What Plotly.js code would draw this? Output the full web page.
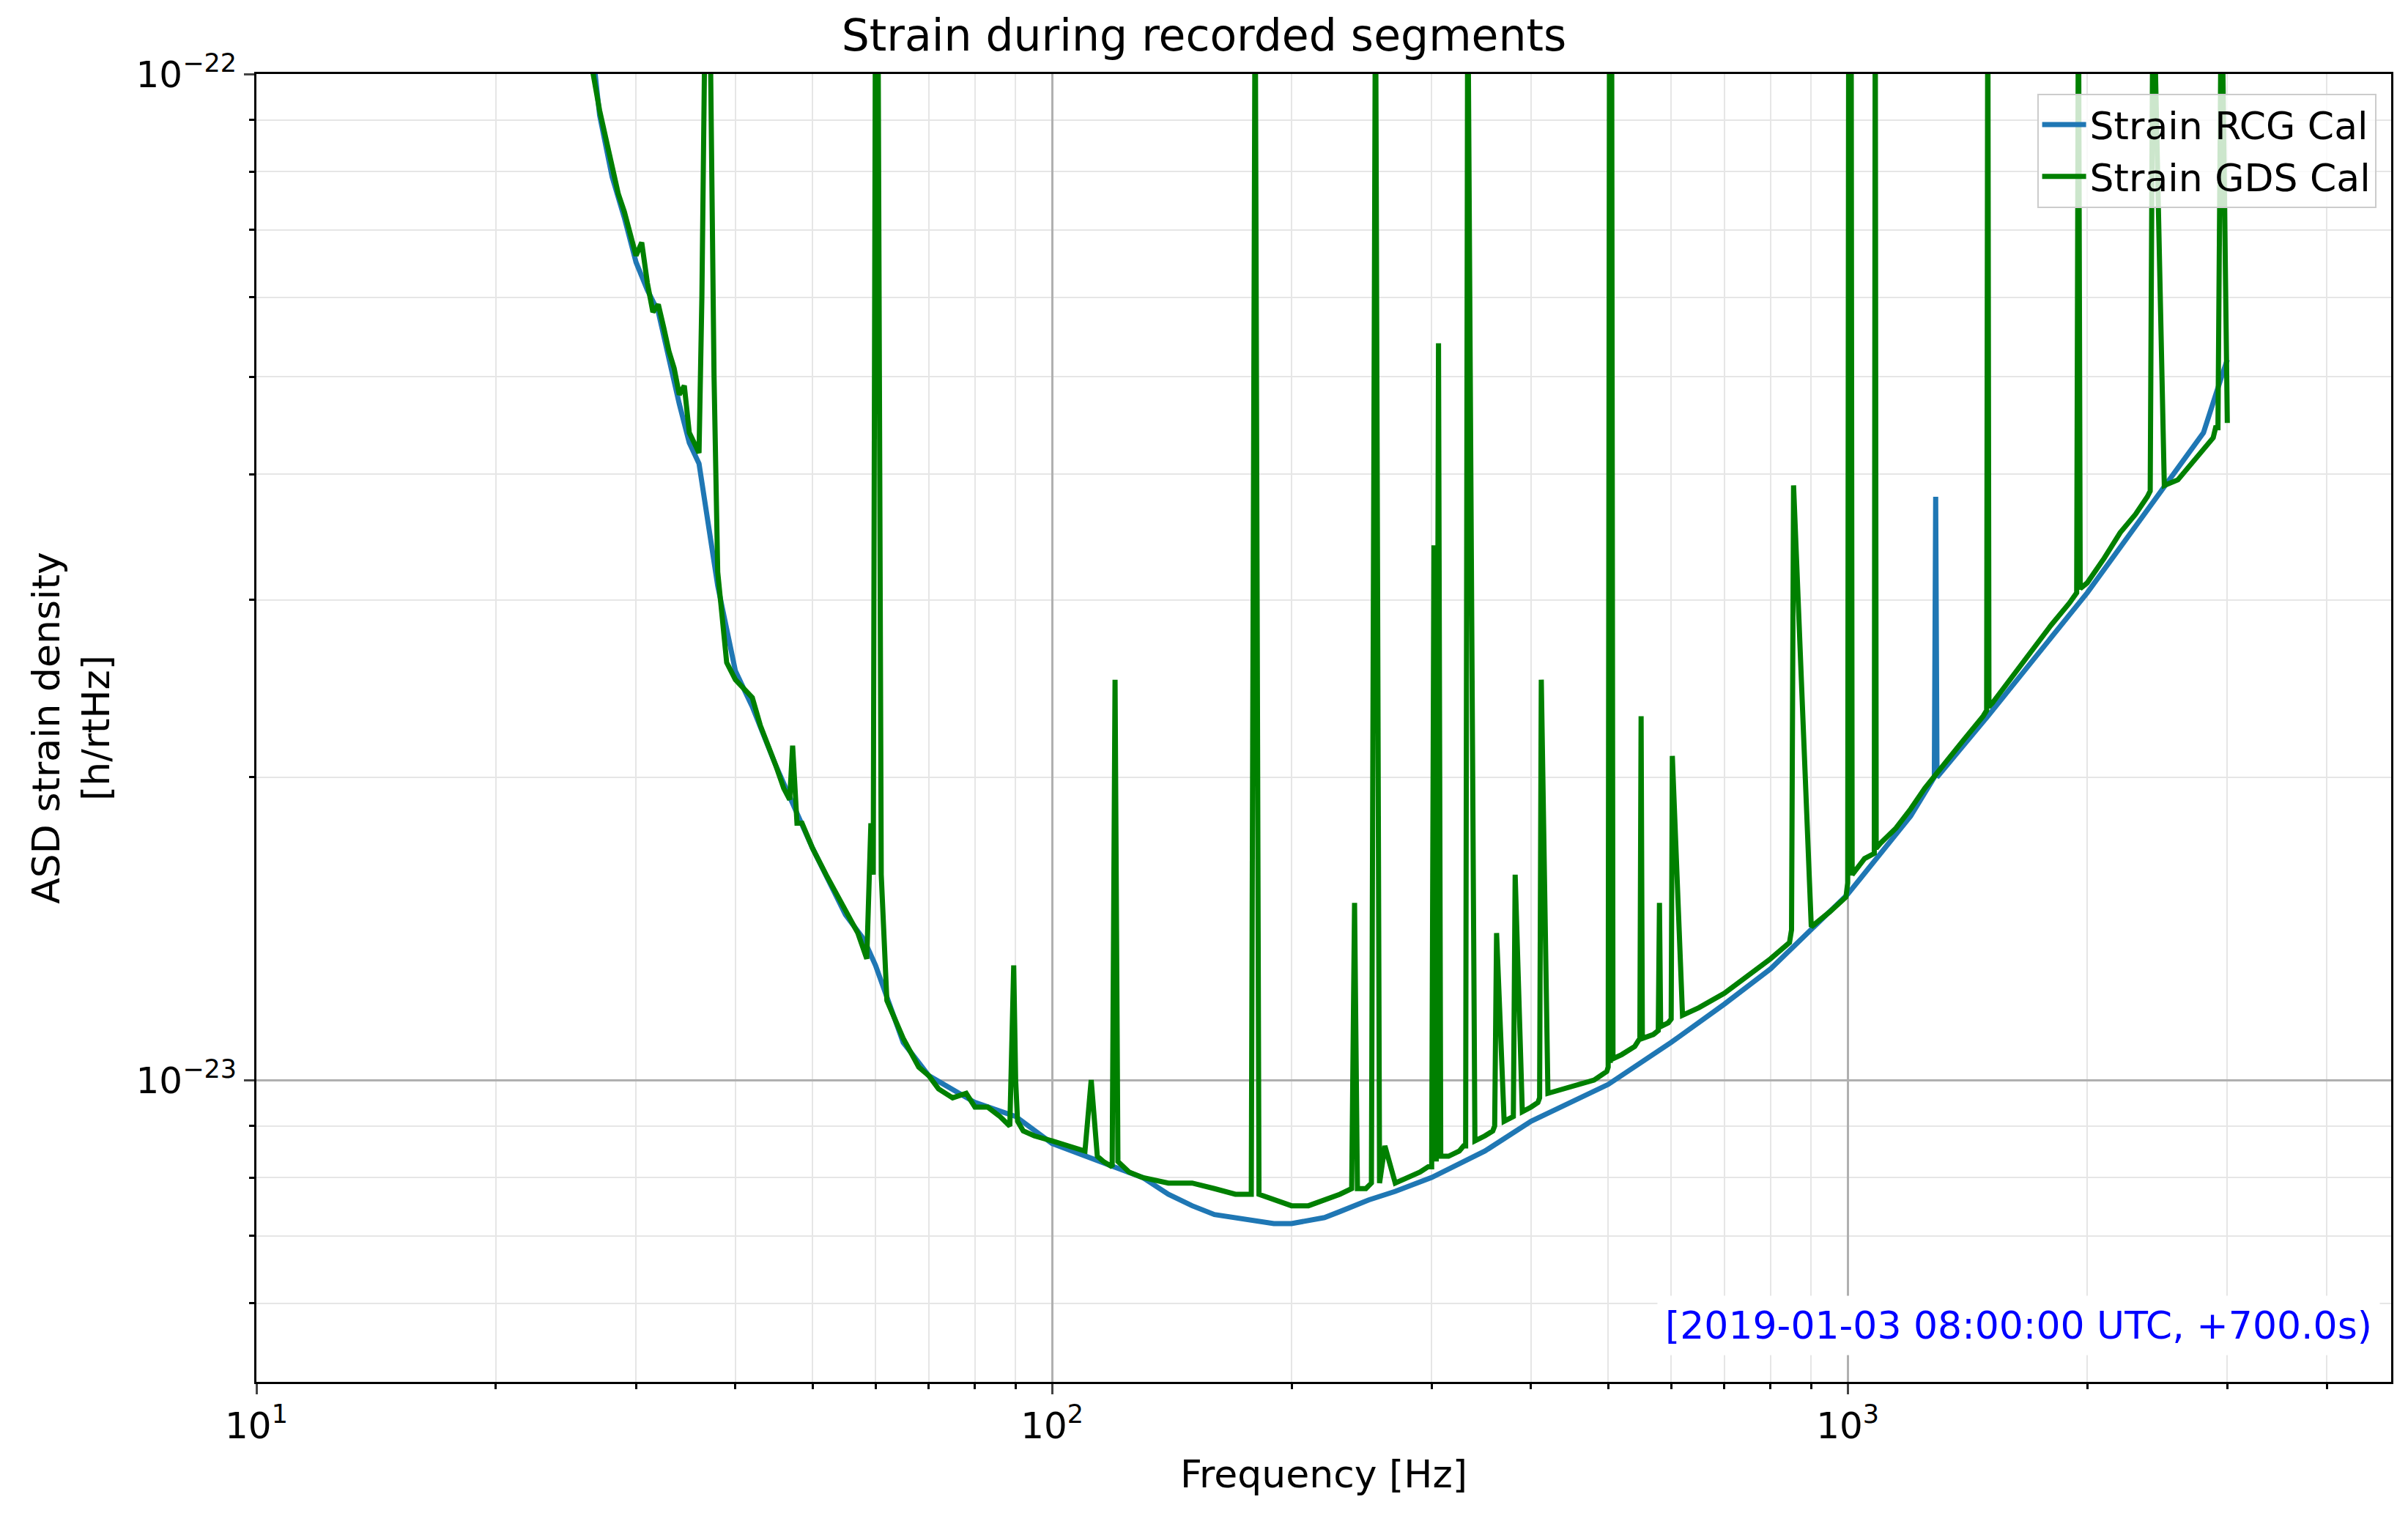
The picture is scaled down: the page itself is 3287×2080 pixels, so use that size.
<!DOCTYPE html>
<html><head><meta charset="utf-8">
<script src="https://cdn.plot.ly/plotly-3.0.1.min.js"></script>
<style>body{margin:0;background:#fff}#c{width:3287px;height:2080px}</style></head>
<body><div id="c"></div>
<script>
const freqGDS = [26,26.5,27,27.5,28,28.5,29,29.5,30,30.5,31,31.5,32,32.5,33,33.5,34,34.5,35,35.5,36,36.3,36.7,37.1,37.6,38,38.5,39,40,41,42,43,44,45,46,46.8,47.2,47.8,48.5,50,52,55,57,58.5,59.2,59.6,60,60.4,61,62,65,68,70,72,75,78,80,83,86,88.5,89.5,90,90.5,92,95,100,105,110,112,114,116,119,120,121,125,130,140,150,160,170,178,180,182,190,200,210,220,230,238,240,242,248,252,255,258,262,270,280,290,297,300,302,304,306,308,315,325,329,331,333,340,350,358,360,362,370,378,380,382,390,400,408,410,412,420,440,460,480,498,500,502,503,505,507,520,540,548,550,552,570,578,580,582,595,600,602,620,650,700,750,800,845,850,855,900,950,995,1000,1003,1007,1010,1013,1050,1080,1083,1086,1100,1150,1200,1250,1300,1350,1400,1480,1495,1500,1505,1520,1600,1700,1800,1900,1940,1950,1960,2000,2100,2200,2300,2380,2400,2420,2500,2600,2700,2800,2880,2900,2920,2950,3000];
const strainGDS = [1.2e-22,1.0e-22,9.2e-23,8.6e-23,8.0e-23,7.6e-23,7.3e-23,6.9e-23,6.6e-23,6.8e-23,6.2e-23,5.8e-23,5.9e-23,5.6e-23,5.3e-23,5.1e-23,4.8e-23,4.9e-23,4.4e-23,4.3e-23,4.2e-23,6e-23,1.3e-22,1.3e-22,5e-23,3.2e-23,2.9e-23,2.6e-23,2.5e-23,2.45e-23,2.4e-23,2.25e-23,2.15e-23,2.05e-23,1.95e-23,1.9e-23,2.15e-23,1.8e-23,1.8e-23,1.7e-23,1.6e-23,1.48e-23,1.4e-23,1.32e-23,1.8e-23,1.6e-23,1.3e-22,1.3e-22,1.6e-23,1.2e-23,1.1e-23,1.03e-23,1.01e-23,9.8e-24,9.6e-24,9.7e-24,9.4e-24,9.4e-24,9.2e-24,9.0e-24,1.3e-23,1.0e-23,9.1e-24,8.9e-24,8.8e-24,8.7e-24,8.6e-24,8.5e-24,1.0e-23,8.4e-24,8.3e-24,8.2e-24,2.5e-23,8.3e-24,8.1e-24,8.0e-24,7.9e-24,7.9e-24,7.8e-24,7.7e-24,7.7e-24,1.3e-22,7.7e-24,7.6e-24,7.5e-24,7.5e-24,7.6e-24,7.7e-24,7.8e-24,1.5e-23,7.8e-24,7.8e-24,7.9e-24,1.3e-22,7.9e-24,8.6e-24,7.9e-24,8.0e-24,8.1e-24,8.2e-24,8.2e-24,3.4e-23,8.3e-24,5.4e-23,8.4e-24,8.4e-24,8.5e-24,8.6e-24,8.6e-24,1.3e-22,8.7e-24,8.8e-24,8.9e-24,9.0e-24,1.4e-23,9.1e-24,9.2e-24,9.2e-24,1.6e-23,9.3e-24,9.4e-24,9.5e-24,9.6e-24,2.5e-23,9.7e-24,9.8e-24,9.9e-24,1.0e-23,1.02e-23,1.03e-23,1.3e-22,1.04e-23,1.3e-22,1.05e-23,1.06e-23,1.08e-23,1.1e-23,2.3e-23,1.1e-23,1.11e-23,1.12e-23,1.5e-23,1.13e-23,1.14e-23,1.15e-23,2.1e-23,1.16e-23,1.18e-23,1.22e-23,1.27e-23,1.32e-23,1.37e-23,1.41e-23,3.9e-23,1.42e-23,1.47e-23,1.52e-23,1.57e-23,1.3e-22,1.62e-23,1.3e-22,1.6e-23,1.66e-23,1.68e-23,1.3e-22,1.7e-23,1.72e-23,1.78e-23,1.86e-23,1.95e-23,2.03e-23,2.1e-23,2.18e-23,2.3e-23,2.33e-23,1.3e-22,2.35e-23,2.37e-23,2.5e-23,2.67e-23,2.83e-23,2.98e-23,3.05e-23,1.3e-22,3.08e-23,3.12e-23,3.3e-23,3.5e-23,3.65e-23,3.8e-23,3.85e-23,1.3e-22,3.9e-23,3.95e-23,4.1e-23,4.25e-23,4.35e-23,4.45e-23,4.45e-23,1.3e-22,4.5e-23,4.6e-23,4.6e-23];
const freqRCG = [26,27,28,29,30,31,32,33,34,35,36,38,40,42,45,50,55,58,60,65,70,80,90,100,110,120,130,140,150,160,170,180,190,200,210,220,230,250,270,300,350,400,500,600,700,800,1000,1200,1285,1290,1295,1500,2000,2500,2800,2950,3000];
const strainRCG = [1.2e-22,9.1e-23,7.9e-23,7.2e-23,6.5e-23,6.1e-23,5.8e-23,5.2e-23,4.7e-23,4.3e-23,4.1e-23,3.1e-23,2.55e-23,2.35e-23,2.05e-23,1.7e-23,1.46e-23,1.38e-23,1.3e-23,1.09e-23,1.01e-23,9.5e-24,9.2e-24,8.65e-24,8.4e-24,8.2e-24,8.0e-24,7.7e-24,7.5e-24,7.35e-24,7.3e-24,7.25e-24,7.2e-24,7.2e-24,7.25e-24,7.3e-24,7.4e-24,7.6e-24,7.75e-24,8.0e-24,8.5e-24,9.1e-24,9.9e-24,1.09e-23,1.19e-23,1.29e-23,1.53e-23,1.83e-23,2.0e-23,3.8e-23,2.0e-23,2.3e-23,3.05e-23,3.9e-23,4.4e-23,5.0e-23,5.2e-23];
const xTicks=[10,100,1000], xTickText=['10<sup>1</sup>','10<sup>2</sup>','10<sup>3</sup>'];
const yTicks=[1e-23,1e-22], yTickText=['10<sup>−23</sup>','10<sup>−22</sup>'];
const xMinor=[20,30,40,50,60,70,80,90,200,300,400,500,600,700,800,900,2000,3000,4000];
const yMinor=[6e-24,7e-24,8e-24,9e-24,2e-23,3e-23,4e-23,5e-23,6e-23,7e-23,8e-23,9e-23];
const F='DejaVu Sans';
Plotly.newPlot('c',[
 {x:freqRCG,y:strainRCG,name:'Strain RCG Cal',mode:'lines',line:{color:'#1f77b4',width:7}},
 {x:freqGDS,y:strainGDS,name:'Strain GDS Cal',mode:'lines',line:{color:'#008000',width:7}}
],{
 width:3287,height:2080,paper_bgcolor:'#fff',plot_bgcolor:'#fff',
 margin:{l:350,r:23,t:101,b:194},
 font:{family:F,size:50,color:'#000'},
 title:{text:'Strain during recorded segments',font:{size:60},y:0.977,yanchor:'middle'},
 xaxis:{type:'log',range:[1,Math.log10(4820)],tickvals:xTicks,ticktext:xTickText,showline:true,mirror:true,linecolor:'#000',linewidth:3,ticks:'outside',ticklen:14,tickwidth:3,gridcolor:'#b0b0b0',gridwidth:3,
   minor:{tickvals:xMinor,showgrid:true,gridcolor:'#e6e6e6',gridwidth:2,ticks:'outside',ticklen:7,tickcolor:'#000'},
   title:{text:'Frequency [Hz]',font:{size:52},standoff:20},zeroline:false},
 yaxis:{type:'log',range:[-23.3,-22],tickvals:yTicks,ticktext:yTickText,showline:true,mirror:true,linecolor:'#000',linewidth:3,ticks:'outside',ticklen:14,tickwidth:3,gridcolor:'#b0b0b0',gridwidth:3,
   minor:{tickvals:yMinor,showgrid:true,gridcolor:'#e6e6e6',gridwidth:2,ticks:'outside',ticklen:7,tickcolor:'#000'},
   title:{text:'ASD strain density<br>[h/rtHz]',font:{size:52},standoff:20},zeroline:false},
 legend:{x:0.993,y:0.985,xanchor:'right',yanchor:'top',bgcolor:'rgba(255,255,255,0.8)',bordercolor:'#ccc',borderwidth:2,font:{size:52},itemwidth:60},
 annotations:[{xref:'paper',yref:'paper',x:0.995,y:0.02,xanchor:'right',yanchor:'bottom',showarrow:false,text:'[2019-01-03 08:00:00 UTC, +700.0s)',font:{size:52,color:'#0000ff'},bgcolor:'#fff',borderpad:10}]
},{displayModeBar:false});
</script></body></html>
